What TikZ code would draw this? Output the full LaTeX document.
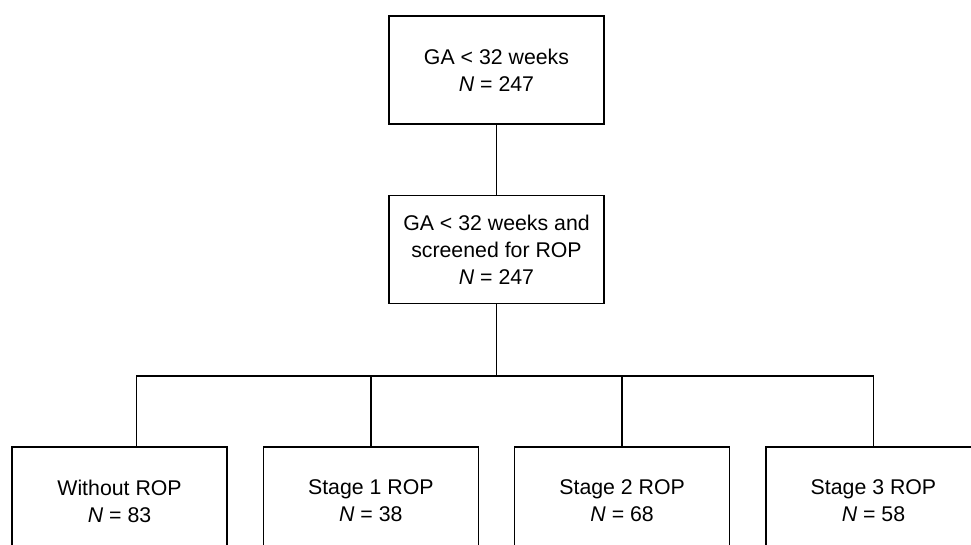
\documentclass[tikz,border=0pt]{standalone}
\usepackage{fontspec}
\setmainfont{Liberation Sans}
\begin{document}
\begin{tikzpicture}[thick,
		box/.style={draw, align=center, minimum width=107.5pt, minimum height=54pt, inner sep=0pt, font=\fontsize{10.65pt}{13.5pt}\selectfont},
		level 1/.style={level distance=89.75pt},
		level 2/.style={sibling distance=125.65pt, level distance=125.75pt,
			edge from parent path={(\tikzparentnode.south) -- ++(0,-36pt) -| (\tikzchildnode.north)}}
		]
	\useasboundingbox (-248.25pt,35pt) rectangle (237.25pt,-237.5pt);
	\node [box] (ga) {GA < 32 weeks\\\textit{N} = 247}
		child { node [box] (screened) {GA < 32 weeks and\\screened for ROP\\\textit{N} = 247}
			child [edge from parent path={(\tikzparentnode.south) -- ++(0,-36pt) -| ([xshift=8.5pt]\tikzchildnode.north)}] { node [box] (none) {Without ROP\\\textit{N} = 83} }
			child { node [box] (st1) {Stage 1 ROP\\\textit{N} = 38} }
			child { node [box] (st2) {Stage 2 ROP\\\textit{N} = 68} }
			child { node [box] (st3) {Stage 3 ROP\\\textit{N} = 58} }
		};
\end{tikzpicture}
\end{document}
